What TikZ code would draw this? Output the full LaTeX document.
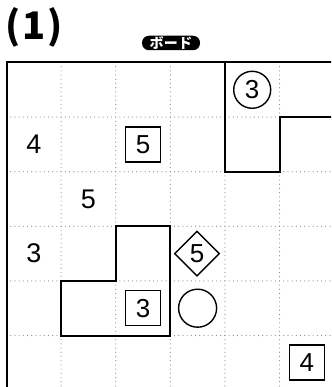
\documentclass[tikz,border=0pt]{standalone}
\usepackage{fontspec}
\setmainfont{Liberation Sans}
\newfontfamily\jp{Noto Sans CJK JP}
\usetikzlibrary{shapes.geometric}
\tikzset{
  dotline/.style={draw=black!45, line width=1.2pt, line cap=round, dash pattern=on 0pt off 4.2pt},
  heavy/.style={line width=2pt, line cap=rect, line join=miter},
  num/.style={inner sep=0pt, font=\fontsize{27}{27}\selectfont},
  boxnum/.style={draw, line width=1.4pt, minimum width=35pt, minimum height=35pt, inner sep=0pt, font=\fontsize{26}{26}\selectfont},
  circnum/.style={draw, circle, line width=1.4pt, minimum size=37pt, inner sep=0pt, font=\fontsize{26}{26}\selectfont},
  diamnum/.style={draw, diamond, line width=1.4pt, minimum width=45pt, minimum height=45pt, inner sep=0pt, font=\fontsize{26}{26}\selectfont},
  pill/.style={fill=black, rounded corners=7pt, minimum width=58pt, minimum height=14.5pt, inner sep=0pt, text=white, font=\jp\bfseries\fontsize{14}{14}\selectfont}
}
\begin{document}
\begin{tikzpicture}[x=1pt,y=-1pt]
\useasboundingbox (0,0) rectangle (331,387);
\clip (0,0) rectangle (331,387);
% dotted grid
\foreach \i in {1,...,5} {
  \draw[dotline] ({6.5+54.6*\i},62.5) -- ({6.5+54.6*\i},390);
  \draw[dotline] (6.5,{62.5+54.6*\i}) -- (334,{62.5+54.6*\i});
}
% outer border
\coordinate (tl) at (6.5,62.5);
\coordinate (tr) at (340,62.5);
\coordinate (bl) at (6.5,395);
\draw[heavy] (bl) -- (tl) -- (tr);
% region boundaries
\coordinate (a1) at (224.9,62.5);
\coordinate (a2) at (224.9,171.7);
\coordinate (a3) at (279.5,171.7);
\coordinate (a4) at (279.5,117.1);
\coordinate (a5) at (340,117.1);
\draw[heavy] (a1) -- (a2) -- (a3) -- (a4) -- (a5);
\coordinate (b1) at (115.7,226.3);
\coordinate (b2) at (170.3,226.3);
\coordinate (b3) at (170.3,335.5);
\coordinate (b4) at (61.1,335.5);
\coordinate (b5) at (61.1,280.9);
\coordinate (b6) at (115.7,280.9);
\draw[heavy] (b1) -- (b2) -- (b3) -- (b4) -- (b5) -- (b6) -- cycle;
% title and label
\node[inner sep=0pt, font=\jp\bfseries\fontsize{38}{38}\selectfont] (title) at (34,27) {(\kern2pt1\kern2pt)};
\node[pill] (board) at (171,43) {ボ\kern0.5pt ー\kern0.5pt ド};
% clues
\node[num] (n4) at (33.8,144.4) {4};
\node[boxnum] (b5a) at (143,144.4) {5};
\node[num] (n5) at (88.4,199) {5};
\node[circnum] (c3) at (252.2,89.8) {3};
\node[num] (n3) at (33.8,253.6) {3};
\node[diamnum] (d5) at (197,253.6) {5};
\node[boxnum] (b3a) at (143,308.2) {3};
\node[circle, draw, line width=1.4pt, minimum size=38pt, inner sep=0pt] (c0) at (197.6,308.2) {};
\node[boxnum] (b4a) at (306.8,362.5) {4};
\end{tikzpicture}
\end{document}
